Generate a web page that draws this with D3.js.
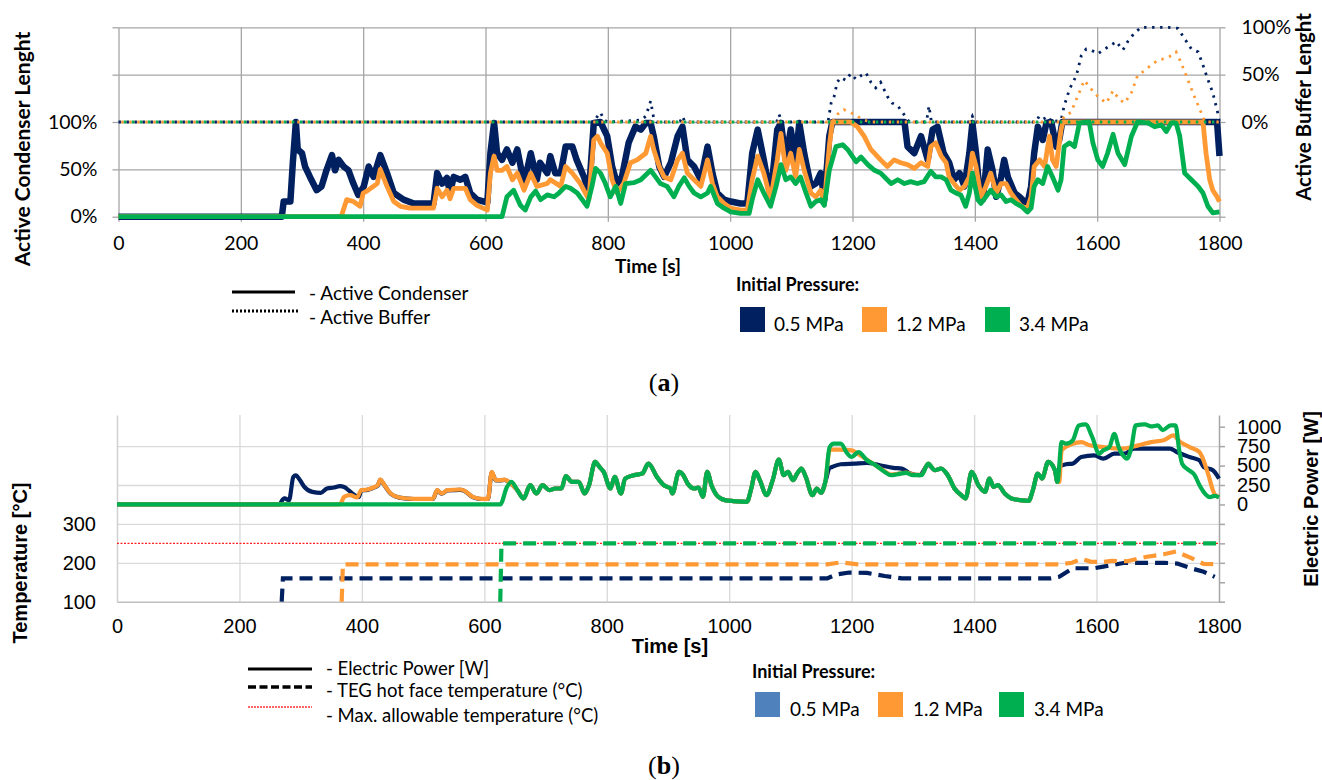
<!DOCTYPE html>
<html>
<head>
<meta charset="utf-8">
<script src="https://cdn.jsdelivr.net/npm/d3@7"></script>
<style>
  body { margin: 0; background: #fff; }
  svg { display: block; }
</style>
</head>
<body>
<svg id="fig" width="1322" height="780"></svg>
<script>
// ---------------- data ----------------
// time axis (s)
const timeTicks = [0, 200, 400, 600, 800, 1000, 1200, 1400, 1600, 1800];
const condenserTicks = [0, 50, 100, 150, 200];            // % of condenser length (left, panel a)
const bufferTicks = [-100, -50, 0, 50, 100];               // % of buffer length (right, panel a)
const temperatureTicks = [100, 200, 300, 400, 500];        // °C (left, panel b)
const powerTicks = [-1250, -1000, -750, -500, -250, 0, 250, 500, 750, 1000]; // W (right, panel b)

const pressures = ["0.5 MPa", "1.2 MPa", "3.4 MPa"];

// Panel (a): active condenser length [%] vs time [s]
const condenser05 = [[0,0],[267,0],[270,16],[281,16],[285,57],[290,100],[293,71],[300,67],[305,53],[313,42],[324,28],[332,32],[340,49],[349,65],[354,49],[360,60],[368,53],[376,49],[384,35],[392,23],[401,32],[409,53],[417,42],[428,65],[439,46],[450,25],[466,18],[483,14],[515,14],[521,46],[529,35],[537,41],[542,25],[548,42],[559,39],[567,42],[575,25],[586,18],[603,15],[608,67],[614,99],[619,67],[627,60],[635,71],[644,57],[652,71],[663,35],[674,67],[684,39],[689,57],[701,46],[706,64],[714,46],[723,46],[731,74],[742,74],[749,60],[761,42],[769,25],[777,99],[788,100],[799,85],[807,53],[815,35],[823,42],[834,78],[845,95],[854,92],[862,99],[870,99],[875,85],[884,53],[892,42],[903,57],[914,85],[922,95],[930,60],[941,53],[952,39],[963,74],[971,46],[979,25],[990,18],[1001,16],[1017,14],[1028,14],[1036,67],[1045,92],[1055,60],[1066,21],[1077,92],[1083,99],[1091,60],[1099,92],[1107,60],[1113,99],[1121,67],[1132,32],[1140,35],[1148,46],[1154,18],[1162,85],[1167,100],[1285,100],[1290,74],[1301,67],[1312,85],[1323,60],[1331,92],[1339,95],[1349,67],[1358,57],[1366,39],[1375,46],[1383,32],[1391,67],[1396,99],[1402,67],[1408,25],[1413,18],[1418,49],[1421,71],[1429,49],[1435,21],[1443,42],[1448,60],[1454,42],[1465,25],[1473,21],[1481,16],[1486,14],[1492,32],[1497,67],[1503,95],[1511,81],[1517,99],[1525,100],[1533,74],[1538,81],[1543,100],[1796,100],[1800,64]];
const condenser12 = [[0,0],[364,0],[373,18],[384,16],[395,11],[400,25],[406,27],[423,35],[428,50],[439,32],[450,16],[461,11],[477,9],[515,9],[521,30],[529,21],[537,28],[542,19],[548,30],[567,30],[575,18],[586,12],[603,7],[608,46],[614,64],[619,49],[627,49],[635,53],[644,39],[652,46],[663,28],[674,46],[684,32],[701,35],[706,39],[723,32],[731,53],[742,46],[755,35],[769,18],[777,81],[783,85],[788,78],[799,67],[807,39],[815,25],[826,35],[837,57],[848,60],[862,67],[870,85],[875,71],[884,53],[892,42],[903,39],[914,60],[922,67],[930,46],[941,39],[952,32],[963,60],[971,35],[979,21],[990,14],[1001,9],[1017,7],[1028,7],[1036,39],[1045,64],[1055,46],[1066,18],[1077,60],[1083,88],[1091,49],[1099,67],[1107,42],[1113,71],[1121,49],[1132,25],[1140,21],[1148,28],[1154,14],[1162,74],[1167,100],[1197,100],[1208,95],[1219,85],[1230,71],[1246,60],[1257,53],[1268,60],[1279,57],[1290,55],[1301,51],[1312,57],[1323,53],[1328,74],[1336,78],[1345,64],[1353,57],[1358,42],[1366,35],[1375,28],[1383,32],[1391,42],[1396,67],[1402,53],[1410,21],[1418,32],[1426,46],[1435,25],[1443,35],[1451,35],[1459,25],[1467,18],[1476,11],[1486,9],[1492,21],[1497,53],[1506,60],[1514,53],[1522,85],[1527,60],[1533,53],[1541,92],[1544,100],[1773,100],[1778,67],[1784,39],[1789,28],[1796,21],[1800,16]];
const condenser34 = [[0,0],[627,0],[635,21],[646,28],[657,12],[665,7],[674,21],[682,27],[690,18],[701,23],[712,21],[720,25],[731,32],[739,30],[750,25],[758,18],[766,11],[774,32],[780,51],[788,46],[796,35],[804,21],[813,32],[821,14],[829,35],[843,36],[854,39],[862,44],[870,49],[878,42],[886,35],[897,32],[908,21],[916,32],[925,41],[933,32],[941,25],[952,21],[963,25],[968,32],[979,14],[990,9],[1001,5],[1017,3.5],[1031,3.5],[1036,18],[1045,39],[1055,25],[1066,11],[1075,32],[1083,55],[1091,39],[1099,42],[1107,35],[1115,42],[1124,25],[1132,11],[1140,16],[1148,18],[1154,12],[1162,49],[1173,74],[1184,76],[1192,71],[1206,58],[1214,63],[1225,55],[1236,49],[1246,46],[1263,35],[1274,39],[1285,35],[1295,37],[1306,35],[1317,37],[1328,48],[1336,42],[1345,42],[1353,39],[1361,28],[1369,25],[1377,23],[1385,11],[1391,25],[1396,46],[1405,18],[1410,14],[1418,21],[1426,28],[1435,21],[1443,23],[1451,16],[1459,18],[1467,14],[1476,11],[1486,5],[1492,9],[1497,32],[1503,39],[1511,35],[1519,53],[1527,42],[1536,28],[1541,39],[1546,74],[1555,78],[1563,74],[1571,99],[1587,100],[1593,78],[1601,60],[1609,53],[1617,67],[1626,87],[1634,67],[1645,55],[1656,85],[1666,100],[1683,99],[1694,95],[1705,97],[1713,90],[1721,99],[1729,99],[1735,85],[1743,46],[1754,39],[1765,32],[1773,25],[1781,11],[1789,4],[1800,5]];

// Panel (a): active buffer length [%] vs time [s]
const buffer05 = [[0,0],[776,0],[783,6],[788,10],[794,2],[800,0],[854,2],[862,6],[870,22],[875,4],[880,0],[918,0],[922,6],[926,0],[1076,0],[1080,8],[1084,0],[1160,0],[1165,20],[1170,27],[1175,42],[1181,47],[1189,44],[1197,51],[1206,45],[1214,49],[1222,52],[1230,42],[1238,36],[1246,42],[1257,27],[1265,20],[1274,17],[1282,10],[1290,2],[1295,0],[1321,0],[1325,17],[1329,0],[1392,0],[1396,6],[1400,0],[1500,0],[1505,6],[1512,3],[1520,6],[1525,0],[1541,2],[1546,17],[1555,35],[1566,49],[1574,70],[1582,77],[1590,76],[1601,72],[1612,77],[1623,81],[1631,85],[1642,76],[1650,85],[1661,94],[1672,100],[1716,100],[1732,99],[1743,88],[1754,77],[1765,74],[1773,60],[1781,45],[1789,31],[1797,10],[1800,0]];
const buffer12 = [[0,0],[1167,0],[1175,8],[1186,13],[1197,10],[1208,6],[1219,2],[1230,0],[1541,0],[1546,6],[1557,10],[1568,27],[1579,44],[1590,35],[1601,27],[1615,20],[1626,33],[1636,24],[1645,20],[1656,31],[1666,49],[1677,54],[1688,60],[1699,65],[1710,67],[1721,70],[1729,74],[1737,63],[1748,45],[1759,27],[1770,10],[1776,0],[1800,0]];
const buffer34 = [[0,0],[1800,0]];

// Panel (b): electric power [W] vs time [s]
const powerStart05 = [[0,0],[267,0],[268,30],[274,77],[281,55],[288,354],[292,375],[299,311],[306,226],[319,162],[333,150],[343,205],[354,218],[364,235],[371,226],[378,184],[388,120],[395,95],[399,180],[409,188],[419,214],[426,244],[430,316],[437,244],[447,138],[461,88],[485,70],[516,70],[523,180],[530,138],[540,180],[561,188],[568,172],[581,95],[595,70],[606,70],[612,410],[619,308],[626,308],[633,316],[640,288]];
const powerStart12 = [[0,0],[364,0],[371,98],[381,120],[392,90],[399,184],[409,192],[419,218],[426,248],[430,320],[437,248],[447,141],[461,90],[485,73],[516,73],[523,184],[530,141],[540,184],[561,192],[568,175],[581,98],[595,73],[606,73],[612,418],[619,312],[626,312],[633,320],[640,290]];
const powerStart34 = [[0,0],[626,0],[637,226],[644,290]];
const powerShared = [[654,184],[664,77],[675,248],[685,141],[695,248],[706,184],[716,205],[726,205],[733,363],[743,290],[754,290],[764,141],[771,248],[781,547],[788,483],[795,418],[806,205],[813,354],[823,141],[830,333],[844,376],[858,397],[868,525],[882,354],[893,248],[904,205],[907,141],[918,418],[925,376],[932,269],[943,205],[950,218],[957,98],[964,418],[971,248],[982,98],[993,56],[1007,43],[1029,34],[1036,205],[1043,418],[1050,312],[1061,120],[1071,312],[1081,576],[1089,376],[1096,418],[1104,312],[1111,397],[1118,461],[1125,354],[1136,120],[1143,205],[1150,149],[1157,290]];
const powerMid05 = [[1164,470],[1168,482],[1182,517],[1204,525],[1225,533],[1246,504],[1268,470],[1282,461],[1296,397],[1311,376],[1325,510]];
const powerMid12 = [[1164,700],[1168,705],[1179,705],[1200,696],[1211,645],[1225,576],[1239,504],[1254,425],[1264,385],[1275,395],[1289,410],[1300,385],[1314,380],[1325,525]];
const powerMid34 = [[1164,738],[1171,781],[1182,781],[1193,653],[1200,610],[1211,674],[1225,568],[1239,504],[1254,418],[1264,376],[1275,388],[1289,406],[1300,376],[1314,376],[1325,525]];
const powerLate = [[1336,440],[1346,461],[1357,376],[1368,205],[1379,120],[1386,77],[1396,418],[1407,248],[1418,162],[1425,333],[1432,226],[1439,248],[1450,141],[1461,77],[1475,56],[1489,47],[1496,184],[1504,397],[1511,333],[1521,547],[1532,440],[1536,290]];
const powerEnd05 = [[1539,482],[1550,517],[1561,525],[1575,610],[1596,632],[1611,589],[1629,653],[1646,653],[1661,717],[1720,717],[1731,674],[1752,610],[1768,568],[1775,482],[1790,440],[1800,333]];
const powerEnd12 = [[1539,290],[1543,696],[1561,781],[1575,802],[1589,760],[1611,738],[1639,717],[1668,760],[1689,802],[1711,830],[1725,888],[1737,802],[1752,738],[1768,674],[1772,620],[1782,397],[1793,130],[1800,95]];
const powerEnd34 = [[1543,803],[1550,781],[1561,823],[1571,1016],[1582,1029],[1593,866],[1604,653],[1611,696],[1621,738],[1629,909],[1636,738],[1643,632],[1650,589],[1657,738],[1664,1016],[1679,1029],[1689,1003],[1700,1016],[1708,955],[1721,1016],[1729,1016],[1735,700],[1740,520],[1750,445],[1760,380],[1768,250],[1777,140],[1785,95],[1793,110],[1800,90]];

// Panel (b): TEG hot face temperature [°C] vs time [s]
const temperature05 = [[269,100],[271,160],[1160,160],[1175,170],[1196,175],[1225,174],[1254,166],[1282,160],[1525,160],[1539,164],[1561,186],[1596,186],[1611,190],[1646,200],[1711,200],[1732,198],[1754,186],[1775,177],[1793,164]];
const temperature12 = [[367,100],[369,196],[1160,196],[1182,201],[1210,196],[1540,196],[1560,200],[1575,210],[1590,203],[1611,202],[1625,205],[1650,204],[1680,215],[1710,222],[1730,229],[1755,212],[1775,197],[1800,196]];
const temperature34 = [[626,100],[628,250],[1800,250]];
const maxAllowableTemperature = [[0,250],[1800,250]];

// ---------------- styling ----------------
const NAVY = "#002060", ORANGE = "#FF9933", GREEN = "#00B050", STEEL = "#4F81BD";
const seriesColors = [NAVY, ORANGE, GREEN];
const calibri = "Lato, 'Open Sans', sans-serif";
const arial = "'Liberation Sans', Arial, sans-serif";
const plain = d3.format("d");

const svg = d3.select("#fig");

// ================= panel (a) =================
const xA = d3.scaleLinear().domain([0, 1800]).range([118.5, 1219.5]);
const yA = d3.scaleLinear().domain([0, 200]).range([216.7, 27.3]);      // condenser %
const yA2 = d3.scaleLinear().domain([-100, 100]).range([216.7, 27.3]);  // buffer %
const gridA = "#a6a6a6";

const gA = svg.append("g");

// horizontal gridlines
gA.append("g")
  .attr("transform", `translate(${xA(0)},0)`)
  .call(d3.axisLeft(yA).tickValues([50, 100, 150, 200]).tickSize(-(xA(1800) - xA(0))).tickFormat(""))
  .call(g => g.select(".domain").remove())
  .call(g => g.selectAll("line").attr("stroke", gridA).attr("stroke-width", 1.3));
// vertical gridlines
gA.append("g")
  .attr("transform", `translate(0,${yA(0)})`)
  .call(d3.axisBottom(xA).tickValues(timeTicks.slice(1, -1)).tickSize(-(yA(0) - yA(200))).tickFormat(""))
  .call(g => g.select(".domain").remove())
  .call(g => g.selectAll("line").attr("stroke", gridA).attr("stroke-width", 1.3));

// x axis
gA.append("g")
  .attr("transform", `translate(0,${yA(0)})`)
  .call(d3.axisBottom(xA).tickValues(timeTicks).tickFormat(plain).tickSize(5).tickPadding(14).tickSizeOuter(0))
  .call(g => g.select(".domain").attr("stroke", gridA).attr("stroke-width", 1.3))
  .call(g => g.selectAll("line").attr("stroke", gridA).attr("stroke-width", 1.3))
  .call(g => g.selectAll("text").attr("fill", "#000").style("font", `19.5px ${calibri}`));

// left axis
gA.append("g")
  .attr("transform", `translate(${xA(0)},0)`)
  .call(d3.axisLeft(yA).tickValues(condenserTicks).tickSize(6).tickPadding(15).tickSizeOuter(0)
    .tickFormat(d => d <= 100 ? d + "%" : ""))
  .call(g => g.select(".domain").attr("stroke", gridA).attr("stroke-width", 1.3))
  .call(g => g.selectAll("line").attr("stroke", gridA).attr("stroke-width", 1.3))
  .call(g => g.selectAll("text").attr("fill", "#000").style("font", `19.5px ${calibri}`));

// right axis
gA.append("g")
  .attr("transform", `translate(${xA(1800)},0)`)
  .call(d3.axisRight(yA2).tickValues(bufferTicks).tickSize(6).tickPadding(16).tickSizeOuter(0)
    .tickFormat(d => d >= 0 ? d + "%" : ""))
  .call(g => g.select(".domain").attr("stroke", gridA).attr("stroke-width", 1.3))
  .call(g => g.selectAll("line").attr("stroke", gridA).attr("stroke-width", 1.3))
  .call(g => g.selectAll("text").attr("fill", "#000").style("font", `19.5px ${calibri}`));

const lineA = d3.line().x(d => xA(d[0])).y(d => yA(d[1]));
const lineA2 = d3.line().x(d => xA(d[0])).y(d => yA2(d[1]));

[condenser05, condenser12, condenser34].forEach((data, i) => {
  gA.append("path")
    .datum(data)
    .attr("d", lineA)
    .attr("fill", "none")
    .attr("stroke", seriesColors[i])
    .attr("stroke-width", i === 0 ? 6.5 : 4.8)
    .attr("stroke-linejoin", "round");
});
[buffer05, buffer12, buffer34].forEach((data, i) => {
  gA.append("path")
    .datum(data)
    .attr("d", lineA2)
    .attr("fill", "none")
    .attr("stroke", seriesColors[i])
    .attr("stroke-width", 2.8)
    .attr("stroke-dasharray", "2.4,5.6")
    .attr("stroke-dashoffset", -i * 2.7);
});

// titles
gA.append("text")
  .attr("transform", "translate(25,149) rotate(-90)")
  .attr("text-anchor", "middle").attr("dominant-baseline", "middle")
  .style("font", `bold 21px ${calibri}`).text("Active Condenser Lenght");
gA.append("text")
  .attr("transform", "translate(1306,107) rotate(-90)")
  .attr("text-anchor", "middle").attr("dominant-baseline", "middle")
  .style("font", `bold 20.5px ${calibri}`).text("Active Buffer Lenght");
gA.append("text")
  .attr("x", 648).attr("y", 268)
  .attr("text-anchor", "middle").attr("dominant-baseline", "middle")
  .style("font", `bold 19px ${calibri}`).text("Time [s]");

// legend (a)
const legA = svg.append("g");
legA.append("line").attr("x1", 232).attr("x2", 295).attr("y1", 292).attr("y2", 292)
  .attr("stroke", "#000").attr("stroke-width", 3);
legA.append("line").attr("x1", 232).attr("x2", 298).attr("y1", 311).attr("y2", 311)
  .attr("stroke", "#000").attr("stroke-width", 3).attr("stroke-dasharray", "2,2");
legA.append("text").attr("x", 309).attr("y", 300).style("font", `19px ${calibri}`).text("- Active Condenser");
legA.append("text").attr("x", 309).attr("y", 324).style("font", `19px ${calibri}`).text("- Active Buffer");
legA.append("text").attr("x", 736).attr("y", 291).style("font", `bold 18px ${calibri}`).text("Initial Pressure:");
const swA = [740, 862, 985];
pressures.forEach((p, i) => {
  legA.append("rect").attr("x", swA[i]).attr("y", 307).attr("width", 25).attr("height", 25)
    .attr("fill", seriesColors[i]);
  legA.append("text").attr("x", swA[i] + 34).attr("y", 331).style("font", `19px ${calibri}`).text(p);
});
const capA = svg.append("text").attr("x", 664).attr("y", 391).attr("text-anchor", "middle")
  .style("font", "26px 'Liberation Serif', 'DejaVu Serif', serif");
capA.append("tspan").text("(");
capA.append("tspan").attr("font-weight", "bold").text("a");
capA.append("tspan").text(")");

// ================= panel (b) =================
const xB = d3.scaleLinear().domain([0, 1800]).range([117, 1219]);
const yB = d3.scaleLinear().domain([100, 580]).range([601.7, 415]);       // temperature °C
const yB2 = d3.scaleLinear().domain([-1250, 1150]).range([601.7, 415]);   // power W
const gridB = "#d9d9d9";

const gB = svg.append("g");

gB.append("g")
  .attr("transform", `translate(${xB(0)},0)`)
  .call(d3.axisLeft(yB).tickValues(temperatureTicks.slice(1)).tickSize(-(xB(1800) - xB(0))).tickFormat(""))
  .call(g => g.select(".domain").remove())
  .call(g => g.selectAll("line").attr("stroke", gridB).attr("stroke-width", 1.3));
gB.append("g")
  .attr("transform", `translate(0,${yB(100)})`)
  .call(d3.axisBottom(xB).tickValues(timeTicks.slice(1, -1)).tickSize(-(yB(100) - 415)).tickFormat(""))
  .call(g => g.select(".domain").remove())
  .call(g => g.selectAll("line").attr("stroke", gridB).attr("stroke-width", 1.3));

// left axis (line + labels 100-300)
gB.append("g")
  .attr("transform", `translate(${xB(0)},0)`)
  .call(d3.axisLeft(yB).tickValues([100, 200, 300]).tickFormat(plain).tickSize(0).tickPadding(21).tickSizeOuter(0))
  .call(g => g.select(".domain").attr("stroke", "#d0d0d0").attr("stroke-width", 1.5))
  .call(g => g.selectAll("text").attr("fill", "#000").style("font", `20px ${arial}`));
// x axis
gB.append("g")
  .attr("transform", `translate(0,${yB(100)})`)
  .call(d3.axisBottom(xB).tickValues(timeTicks).tickFormat(plain).tickSize(0).tickPadding(17).tickSizeOuter(0))
  .call(g => g.select(".domain").attr("stroke", "#bfbfbf").attr("stroke-width", 1.5))
  .call(g => g.selectAll("text").attr("fill", "#000").style("font", `20px ${arial}`));
// right axis
gB.append("g")
  .attr("transform", `translate(${xB(1800)},0)`)
  .call(d3.axisRight(yB2).tickValues(powerTicks).tickSize(6).tickPadding(12).tickSizeOuter(0)
    .tickFormat(d => d >= 0 ? plain(d) : ""))
  .call(g => g.select(".domain").attr("stroke", "#a6a6a6").attr("stroke-width", 1.5))
  .call(g => g.selectAll("line").attr("stroke", "#a6a6a6").attr("stroke-width", 1.5))
  .call(g => g.selectAll("text").attr("fill", "#000").style("font", `20px ${arial}`));

const lineT = d3.line().x(d => xB(d[0])).y(d => yB(d[1]));
const lineP = d3.line().x(d => xB(d[0])).y(d => yB2(d[1])).curve(d3.curveMonotoneX);

// maximum allowable temperature
gB.append("path").datum(maxAllowableTemperature).attr("d", lineT)
  .attr("fill", "none").attr("stroke", "#ff2020").attr("stroke-width", 1.2).attr("stroke-dasharray", "2,1.5");

// TEG hot face temperature
[temperature05, temperature12, temperature34].forEach((data, i) => {
  gB.append("path").datum(data).attr("d", lineT)
    .attr("fill", "none").attr("stroke", seriesColors[i])
    .attr("stroke-width", 4.2).attr("stroke-dasharray", "13,7");
});

// electric power
const power05 = powerStart05.concat(powerShared, powerMid05, powerLate, powerEnd05);
const power12 = powerStart12.concat(powerShared, powerMid12, powerLate, powerEnd12);
const power34 = powerStart34.concat(powerShared, powerMid34, powerLate, powerEnd34);
[power05, power12, power34].forEach((data, i) => {
  gB.append("path").datum(data).attr("d", lineP)
    .attr("fill", "none").attr("stroke", seriesColors[i])
    .attr("stroke-width", 4.2).attr("stroke-linejoin", "round");
});

// titles
gB.append("text")
  .attr("transform", "translate(22,563) rotate(-90)")
  .attr("text-anchor", "middle").attr("dominant-baseline", "middle")
  .style("font", `bold 20px ${arial}`).text("Temperature [°C]");
gB.append("text")
  .attr("transform", "translate(1313,499) rotate(-90)")
  .attr("text-anchor", "middle").attr("dominant-baseline", "middle")
  .style("font", `bold 20px ${arial}`).text("Electric Power [W]");
gB.append("text")
  .attr("x", 670).attr("y", 648)
  .attr("text-anchor", "middle").attr("dominant-baseline", "middle")
  .style("font", `bold 20px ${arial}`).text("Time [s]");

// legend (b)
const legB = svg.append("g");
legB.append("line").attr("x1", 248).attr("x2", 312).attr("y1", 669).attr("y2", 669)
  .attr("stroke", "#000").attr("stroke-width", 3);
legB.append("line").attr("x1", 248).attr("x2", 312).attr("y1", 687).attr("y2", 687)
  .attr("stroke", "#000").attr("stroke-width", 3.5).attr("stroke-dasharray", "8,3.5");
legB.append("line").attr("x1", 248).attr("x2", 312).attr("y1", 707).attr("y2", 707)
  .attr("stroke", "#ff3030").attr("stroke-width", 1.5).attr("stroke-dasharray", "2,1");
legB.append("text").attr("x", 326).attr("y", 675).style("font", `18.5px ${calibri}`).text("- Electric Power [W]");
legB.append("text").attr("x", 326).attr("y", 697).style("font", `18.5px ${calibri}`).text("- TEG hot face temperature (°C)");
legB.append("text").attr("x", 326).attr("y", 722).style("font", `18.5px ${calibri}`).text("- Max. allowable temperature (°C)");
legB.append("text").attr("x", 752).attr("y", 678).style("font", `bold 18px ${calibri}`).text("Initial Pressure:");
const swB = [755, 878, 999];
const swBColors = [STEEL, ORANGE, GREEN];
pressures.forEach((p, i) => {
  legB.append("rect").attr("x", swB[i]).attr("y", 692).attr("width", 25).attr("height", 25)
    .attr("fill", swBColors[i]);
  legB.append("text").attr("x", swB[i] + 35).attr("y", 716).style("font", `19px ${calibri}`).text(p);
});
const capB = svg.append("text").attr("x", 664).attr("y", 774).attr("text-anchor", "middle")
  .style("font", "26px 'Liberation Serif', 'DejaVu Serif', serif");
capB.append("tspan").text("(");
capB.append("tspan").attr("font-weight", "bold").text("b");
capB.append("tspan").text(")");
</script>
</body>
</html>
